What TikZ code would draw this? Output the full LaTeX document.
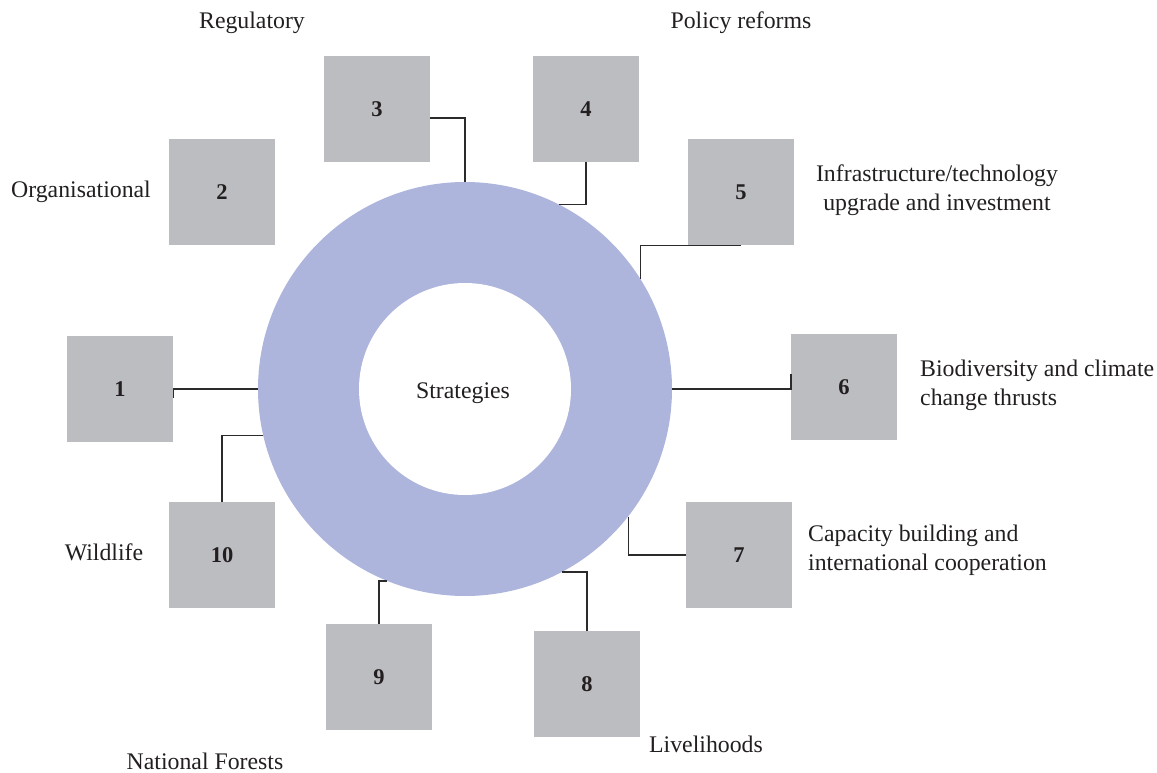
\documentclass[tikz,border=0pt]{standalone}
\usepackage{fontspec}
\setmainfont{Liberation Serif}
\definecolor{boxgray}{HTML}{BCBDC1}
\definecolor{ringblue}{HTML}{AEB5DC}
\definecolor{ink}{HTML}{231F20}
\definecolor{linkc}{HTML}{2B2B2B}
\begin{document}
\begin{tikzpicture}[x=1pt,y=-1pt,
  box/.style={fill=boxgray, minimum size=106pt, inner sep=0pt,
    font=\fontsize{22.5}{26}\selectfont\bfseries, text=ink},
  lbl/.style={font=\fontsize{23.8}{29}\selectfont, text=ink, inner sep=0pt},
  link/.style={draw=linkc, line width=1.4pt}]
\useasboundingbox (0,0) rectangle (1157,773);

% central ring
\node[circle, fill=ringblue, minimum size=414pt, inner sep=0pt] (ring) at (465,389) {};
\node[circle, fill=white, minimum size=212pt, inner sep=0pt] (hole) at (465,389) {};
\node[lbl] (centre) at (463,393) {Strategies};

% strategy boxes
\node[box] (b1)  at (120,389) {1};
\node[box] (b2)  at (222,192) {2};
\node[box] (b3)  at (377,109) {3};
\node[box] (b4)  at (586,109) {4};
\node[box] (b5)  at (741,192) {5};
\node[box] (b6)  at (844,387) {6};
\node[box] (b7)  at (739,555) {7};
\node[box] (b8)  at (587,684) {8};
\node[box] (b9)  at (379,677) {9};
\node[box] (b10) at (222,555) {10};

% labels
\node[lbl] (l3)  at (252,23)  {Regulatory};
\node[lbl] (l4)  at (741,23)  {Policy reforms};
\node[lbl] (l2)  at (81,192)  {Organisational};
\node[lbl, align=center] (l5) at (937,190) {Infrastructure/technology\\upgrade and investment};
\node[lbl, align=left, anchor=west] (l6) at (920,385) {Biodiversity and climate\\change thrusts};
\node[lbl, align=left, anchor=west] (l7) at (808,550) {Capacity building and\\international cooperation};
\node[lbl] (l10) at (104,552) {Wildlife};
\node[lbl] (l9)  at (205,761) {National Forests};
\node[lbl] (l8)  at (706,744) {Livelihoods};

% connectors
\draw[link] (ring.west) -| ([yshift=-9pt]b1.east);
\draw[link] ([yshift=-9pt]b3.east) -| (ring.north);
\draw[link] (b4.south) |- (ring.63);
\draw[link] (b5.south) -| (ring.32.5);
\draw[link] (ring.east) -| ([yshift=13pt]b6.west);
\draw[link] (ring.-38) |- (b7.west);
\draw[link] (ring.-62) -| (b8.north);
\draw[link] (ring.-112) -| (b9.north);
\draw[link] (ring.193.7) -| (b10.north);
\end{tikzpicture}
\end{document}
